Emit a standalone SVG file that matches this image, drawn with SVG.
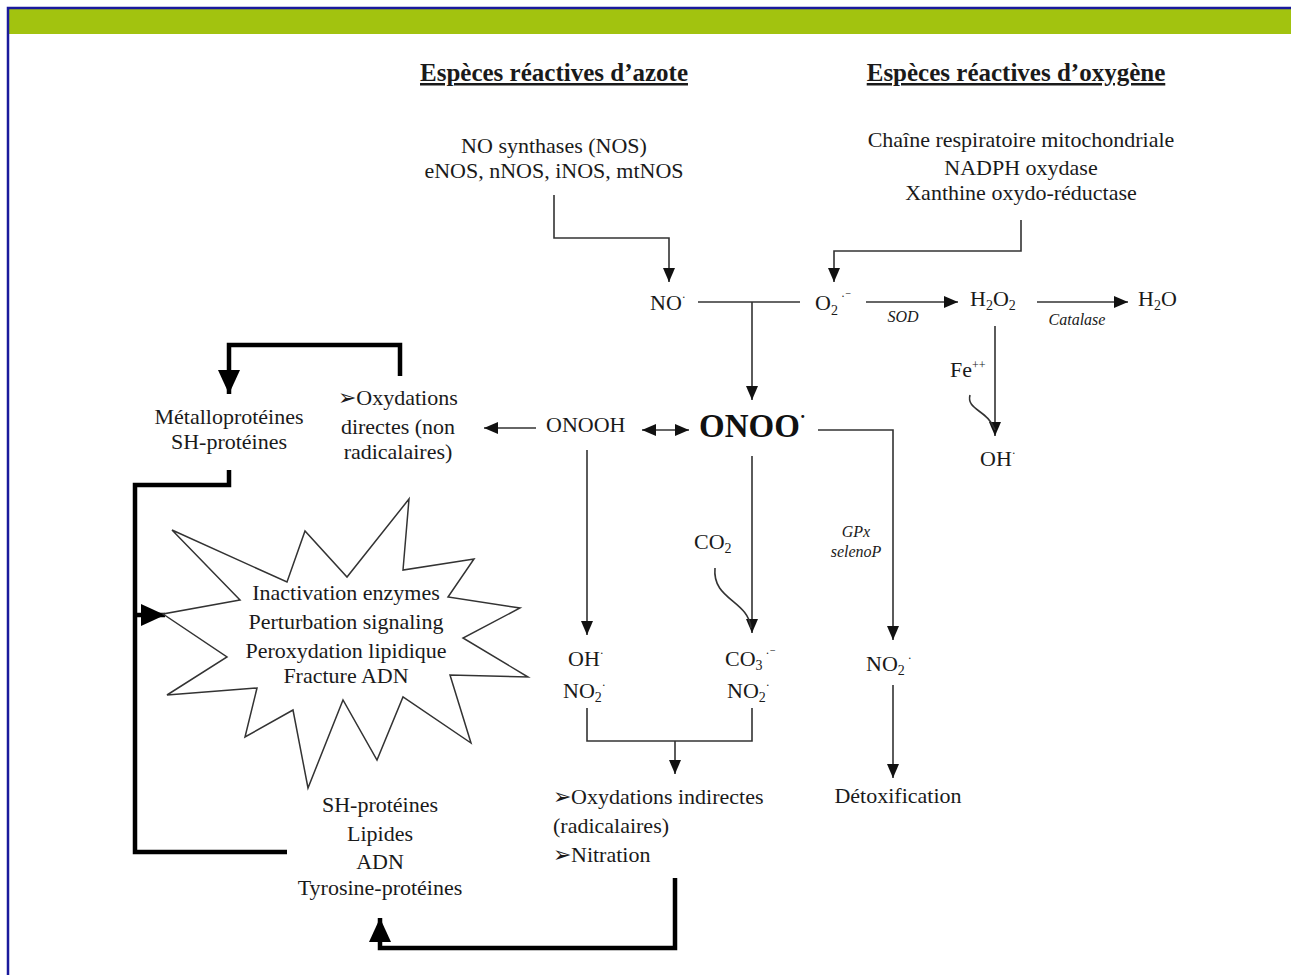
<svg xmlns="http://www.w3.org/2000/svg" width="1291" height="975" viewBox="0 0 1291 975">
<defs>
<style>
text{font-family:"Liberation Serif","DejaVu Serif",serif;fill:#1a1a1a;font-size:22px}
.c{text-anchor:middle}
.h{font-weight:bold;font-size:25px;text-decoration:underline}
.i{font-style:italic;font-size:16px}
.big{font-weight:bold;font-size:33px;fill:#111}
.sub{font-size:14px}
.sup{font-size:12px}
.ln{fill:none;stroke:#333;stroke-width:1.6}
.tk{fill:none;stroke:#000;stroke-width:4.5}
</style>
<marker id="a" markerUnits="userSpaceOnUse" markerWidth="16" markerHeight="16" viewBox="0 0 16 16" refX="15" refY="8" orient="auto">
<path d="M1,2 L15,8 L1,14 Z" fill="#111"/>
</marker>
<marker id="as" markerUnits="userSpaceOnUse" markerWidth="16" markerHeight="16" viewBox="0 0 16 16" refX="1" refY="8" orient="auto">
<path d="M15,2 L1,8 L15,14 Z" fill="#111"/>
</marker>
<marker id="A" markerUnits="userSpaceOnUse" markerWidth="28" markerHeight="28" viewBox="0 0 28 28" refX="26" refY="14" orient="auto">
<path d="M2,3 L26,14 L2,25 Z" fill="#000"/>
</marker>
</defs>

<rect x="0" y="0" width="1291" height="975" fill="#fff"/>
<rect x="9" y="9" width="1282" height="25" fill="#a2c30f"/>
<path d="M8,975 V8 H1291" fill="none" stroke="#1a1a9c" stroke-width="2.5"/>

<g id="connectors">
<path class="ln" d="M554,195 V238 H669 V282" marker-end="url(#a)"/>
<path class="ln" d="M1021,220 V251 H834 V282" marker-end="url(#a)"/>
<path class="ln" d="M698,302 H800"/>
<path class="ln" d="M752,302 V400" marker-end="url(#a)"/>
<path class="ln" d="M866,302 H958" marker-end="url(#a)"/>
<path class="ln" d="M1037,302 H1128" marker-end="url(#a)"/>
<path class="ln" d="M995,326 V436" marker-end="url(#a)"/>
<path class="ln" d="M970,395 C966,410 988,410 995,430"/>
<path class="ln" d="M536,428 H484" marker-end="url(#a)"/>
<path class="ln" d="M642,430 H689" marker-start="url(#as)" marker-end="url(#a)"/>
<path class="ln" d="M587,450 V635" marker-end="url(#a)"/>
<path class="ln" d="M752,456 V633" marker-end="url(#a)"/>
<path class="ln" d="M715,568 C712,600 748,600 751,628"/>
<path class="ln" d="M818,430 H893 V640" marker-end="url(#a)"/>
<path class="ln" d="M587,708 V741 H752 V708"/>
<path class="ln" d="M675,741 V774" marker-end="url(#a)"/>
<path class="ln" d="M893,685 V778" marker-end="url(#a)"/>
<path class="tk" d="M400,376 V345 H229 V394" marker-end="url(#A)"/>
<path class="tk" d="M229,470 V485 H135 V852 H287"/>
<path class="tk" d="M135,615 H165" marker-end="url(#A)"/>
<path class="tk" d="M675,878 V948 H380 V918" marker-end="url(#A)"/>
</g>

<g id="starburst">
<polygon fill="#fff" stroke="#333" stroke-width="1.5" points="172,530 287,582 305,531 347,577 409,499 403,570 474,559 448,597 520,608 463,638 528,677 450,675 471,743 403,697 377,760 343,700 308,788 293,710 245,737 257,688 167,695 227,657 163,614 240,600"/>
<text class="c" x="346" y="600">Inactivation enzymes</text>
<text class="c" x="346" y="629">Perturbation signaling</text>
<text class="c" x="346" y="658">Peroxydation lipidique</text>
<text class="c" x="346" y="683">Fracture ADN</text>
</g>

<g id="h-azote"><text class="c h" x="554" y="81">Espèces réactives d’azote</text></g>
<g id="h-oxygene"><text class="c h" x="1016" y="81">Espèces réactives d’oxygène</text></g>

<g id="nos">
<text class="c" x="554" y="153">NO synthases (NOS)</text>
<text class="c" x="554" y="178">eNOS, nNOS, iNOS, mtNOS</text>
</g>
<g id="ros-sources">
<text class="c" x="1021" y="147">Chaîne respiratoire mitochondriale</text>
<text class="c" x="1021" y="175">NADPH oxydase</text>
<text class="c" x="1021" y="200">Xanthine oxydo-réductase</text>
</g>

<g id="no"><text x="650" y="310">NO<tspan class="sup" dy="-9">·</tspan></text></g>
<g id="o2"><text x="815" y="310">O<tspan class="sub" dy="5">2</tspan><tspan class="sup" dy="-15"> ·⁻</tspan></text></g>
<g id="sod"><text class="c i" x="903" y="322">SOD</text></g>
<g id="h2o2"><text x="970" y="306">H<tspan class="sub" dy="4">2</tspan><tspan dy="-4">O</tspan><tspan class="sub" dy="4">2</tspan></text></g>
<g id="catalase"><text class="c i" x="1077" y="325">Catalase</text></g>
<g id="h2o"><text x="1138" y="306">H<tspan class="sub" dy="4">2</tspan><tspan dy="-4">O</tspan></text></g>
<g id="fe"><text x="950" y="377">Fe<tspan class="sup" dy="-8">++</tspan></text></g>
<g id="oh1"><text x="980" y="466">OH<tspan class="sup" dy="-9">·</tspan></text></g>

<g id="onoo"><text class="big" x="699" y="437">ONOO<tspan font-size="18" dy="-14">·</tspan></text></g>
<g id="onooh"><text x="546" y="432" font-size="20">ONOOH</text></g>

<g id="ox-directes">
<text class="c" x="398" y="405">➢Oxydations</text>
<text class="c" x="398" y="434">directes (non</text>
<text class="c" x="398" y="459">radicalaires)</text>
</g>
<g id="metallo">
<text class="c" x="229" y="424">Métalloprotéines</text>
<text class="c" x="229" y="449">SH-protéines</text>
</g>

<g id="co2"><text x="694" y="549">CO<tspan class="sub" dy="4">2</tspan></text></g>
<g id="gpx">
<text class="c i" x="856" y="537">GPx</text>
<text class="c i" x="856" y="557">selenoP</text>
</g>

<g id="oh-no2">
<text x="568" y="666">OH<tspan class="sup" dy="-9">·</tspan></text>
<text x="563" y="698">NO<tspan class="sub" dy="4">2</tspan><tspan class="sup" dy="-13">·</tspan></text>
</g>
<g id="co3-no2">
<text x="725" y="666">CO<tspan class="sub" dy="4">3</tspan><tspan class="sup" dy="-13"> ·⁻</tspan></text>
<text x="727" y="698">NO<tspan class="sub" dy="4">2</tspan><tspan class="sup" dy="-13">·</tspan></text>
</g>
<g id="no2-right"><text x="866" y="671">NO<tspan class="sub" dy="4">2</tspan><tspan class="sup" dy="-13"> ·</tspan></text></g>

<g id="ox-indirectes">
<text x="553" y="804">➢Oxydations indirectes</text>
<text x="553" y="833">(radicalaires)</text>
<text x="553" y="862">➢Nitration</text>
</g>
<g id="detox"><text class="c" x="898" y="803">Détoxification</text></g>

<g id="cibles">
<text class="c" x="380" y="812">SH-protéines</text>
<text class="c" x="380" y="841">Lipides</text>
<text class="c" x="380" y="869">ADN</text>
<text class="c" x="380" y="895">Tyrosine-protéines</text>
</g>
</svg>
